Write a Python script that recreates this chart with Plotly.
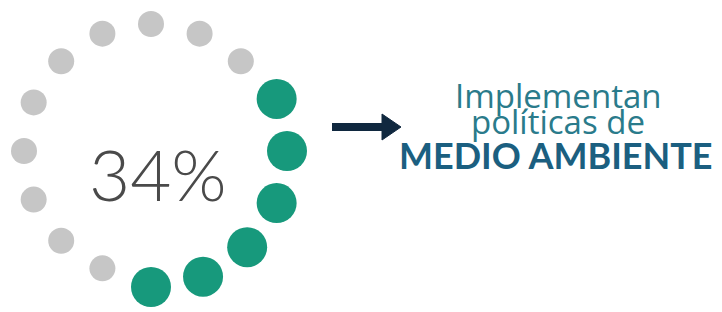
import plotly.graph_objects as go

# ---- data ----
percent_label = "34%"
n_dots = 16
filled_dots = 6          # green dots
gray_before = 3          # gray dots clockwise from 12 o'clock before the green run
line1 = "Implementan"
line2 = "políticas de"
line3 = "MEDIO AMBIENTE"

step = 360 / n_dots
thetas = [i * step for i in range(n_dots)]
status = ["gray"] * gray_before + ["green"] * filled_dots + ["gray"] * (n_dots - gray_before - filled_dots)

GREEN = "#17997c"
GRAY = "#c6c6c6"
GRAY_RING = 127 / 136    # gray dots sit slightly inside the green ones

gray_theta = [t for t, s in zip(thetas, status) if s == "gray"]
green_theta = [t for t, s in zip(thetas, status) if s == "green"]

fig = go.Figure()
fig.add_trace(go.Scatterpolar(
    r=[GRAY_RING] * len(gray_theta), theta=gray_theta, mode="markers",
    marker=dict(size=26, color=GRAY), cliponaxis=False, hoverinfo="skip"))
fig.add_trace(go.Scatterpolar(
    r=[1] * len(green_theta), theta=green_theta, mode="markers",
    marker=dict(size=40, color=GREEN), cliponaxis=False, hoverinfo="skip"))

W, H = 722, 312
cx, cy, R = 151, 151, 136
fig.update_layout(
    width=W, height=H,
    margin=dict(l=0, r=0, t=0, b=0),
    paper_bgcolor="white", plot_bgcolor="white",
    showlegend=False,
    polar=dict(
        domain=dict(x=[(cx - R) / W, (cx + R) / W], y=[(H - cy - R) / H, (H - cy + R) / H]),
        bgcolor="rgba(0,0,0,0)",
        angularaxis=dict(direction="clockwise", rotation=90, visible=False, showgrid=False),
        radialaxis=dict(range=[0, 1], visible=False, showgrid=False),
    ),
)

annotations = [
    dict(text=percent_label, x=158 / W, y=1 - 173 / H, xref="paper", yref="paper",
         showarrow=False, xanchor="center", yanchor="middle",
         font=dict(family="Lato", size=71, color="#4a4a4a", weight=300)),
    dict(text=line1, x=558 / W, y=1 - 95 / H, xref="paper", yref="paper",
         showarrow=False, xanchor="center", yanchor="middle",
         font=dict(family="Open Sans", size=33, color="#2a7b8b")),
    dict(text=line2, x=558 / W, y=1 - 122 / H, xref="paper", yref="paper",
         showarrow=False, xanchor="center", yanchor="middle",
         font=dict(family="Open Sans", size=33, color="#2a7b8b")),
    dict(text="<b>" + line3 + "</b>", x=556 / W, y=1 - 155 / H, xref="paper", yref="paper",
         showarrow=False, xanchor="center", yanchor="middle",
         font=dict(family="Lato", size=36, color="#1b5f80", weight=900)),
]
fig.update_layout(annotations=annotations)

# arrow (decoration)
NAVY = "#10283f"
fig.add_shape(type="line", xref="paper", yref="paper",
              x0=332 / W, x1=386 / W, y0=1 - 127 / H, y1=1 - 127 / H,
              line=dict(color=NAVY, width=8))
fig.add_shape(type="path", xref="paper", yref="paper",
              path=f"M {382/W} {1-114/H} L {401/W} {1-127/H} L {382/W} {1-140/H} Z",
              fillcolor=NAVY, line=dict(color=NAVY, width=1))

fig.write_html("out.html", config={"displayModeBar": False},
               post_script="document.body.style.margin='0';")
